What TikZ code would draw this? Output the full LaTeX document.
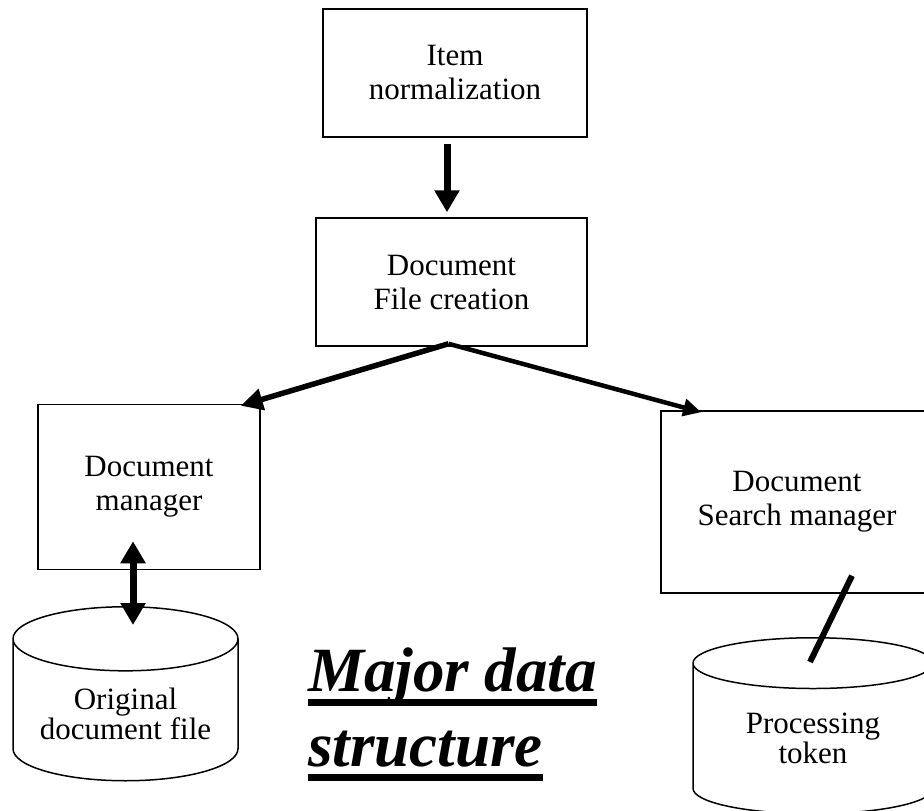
\documentclass[tikz,border=0pt]{standalone}
\usepackage{fontspec}
\setmainfont{Liberation Serif}
\usetikzlibrary{calc}
\usetikzlibrary{shapes.geometric, arrows.meta}
\tikzstyle{procbox} = [rectangle,
draw=black,
line width=1.5pt,
align=center,
font=\fontsize{31}{34}\selectfont]
\tikzstyle{store} = [cylinder,
shape border rotate=90,
aspect=0.36,
draw=black,
line width=1.5pt,
align=center,
font=\fontsize{31}{30}\selectfont]
\tikzstyle{fatarrow} = [line width=7pt,-{Triangle[length=22pt,width=24pt]}]
\tikzstyle{fatdarrow} = [line width=7pt,{Triangle[length=22pt,width=24pt]}-{Triangle[length=22pt,width=24pt]}]
\tikzstyle{midarrow} = [line width=5.5pt,-{Triangle[length=22pt,width=21pt]}]
\tikzstyle{thinarrow} = [line width=4.5pt,-{Triangle[length=18pt,width=17pt]}]
\newcommand{\fatul}[1]{\setbox0=\hbox{#1}\rlap{\rule[-14pt]{\wd0}{7pt}}\box0}

\begin{document}
\begin{tikzpicture}[x=1pt,y=-1pt]
    \useasboundingbox (0,0) rectangle (924,811);
    \clip (0,0) rectangle (924,811);

    \node (item) [procbox, minimum width=264pt, minimum height=128pt] at (455,73) {Item\\normalization};
    \node (create) [procbox, minimum width=271pt, minimum height=128pt] at (451.5,282) {Document\\File creation};
    \node (docmgr) [procbox, minimum width=222pt, minimum height=165pt] at (149,487) {Document\\manager};
    \node (srchmgr) [procbox, minimum width=272pt, minimum height=182pt] at (797,502) {Document\\Search manager};

    \node (origfile) [store, minimum width=225pt, minimum height=174pt, anchor=north] at (125.5,606) {Original\\document file};
    \node (proctok) [store, minimum width=240pt, minimum height=176pt, anchor=north] at (813,637) {\raisebox{8pt}{Processing}\\\raisebox{8pt}{token}};

    \node (title) [anchor=north west, align=left, inner sep=0pt,
      font=\fontsize{63}{75}\selectfont\bfseries\itshape] at (308,648)
      {\fatul{Major data}\\\fatul{structure}};

    % Flow arcs
    \draw [fatarrow] ([xshift=-8pt,yshift=-6pt]item.south) -- ([xshift=-4.5pt,yshift=5pt]create.north);
    \coordinate (split) at ([xshift=-3pt,yshift=3pt]create.south);
    \draw [midarrow] (split) -- ([xshift=-20pt,yshift=-2pt]docmgr.north east);
    \draw [thinarrow] (split) -- ([xshift=41pt,yshift=-2pt]srchmgr.north west);

    % Store links
    \draw [fatdarrow] ([xshift=-16pt,yshift=29pt]docmgr.south) -- ([xshift=7.5pt,yshift=-19pt]origfile.north);
    \coordinate (tokA) at ([xshift=55pt,yshift=18pt]srchmgr.south);
    \coordinate (tokB) at ([xshift=-3pt,yshift=-25pt]proctok.north);
    \draw [line width=6pt] (tokA) -- (tokB);
  \end{tikzpicture}
\end{document}
